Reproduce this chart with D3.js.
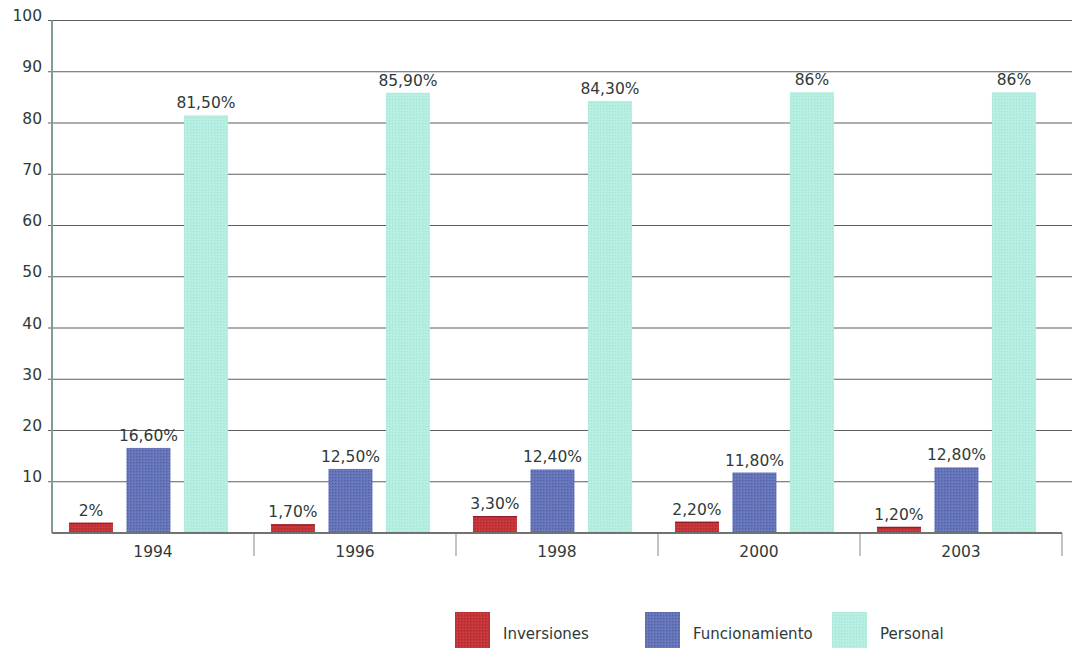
<!DOCTYPE html>
<html>
<head>
<meta charset="utf-8">
<script src="https://cdn.jsdelivr.net/npm/d3@7"></script>
<style>
  html, body { margin: 0; padding: 0; background: #ffffff; }
  svg { display: block; }
  text { font-family: "DejaVu Sans", sans-serif; fill: #2f3a38; }
</style>
</head>
<body>
<svg id="chart" width="1072" height="648"></svg>
<script>
// Distribución del gasto por año (porcentajes)
const years = ["1994", "1996", "1998", "2000", "2003"];
const seriesNames = ["Inversiones", "Funcionamiento", "Personal"];
const inversiones = [2, 1.7, 3.3, 2.2, 1.2];
const funcionamiento = [16.6, 12.5, 12.4, 11.8, 12.8];
const personal = [81.5, 85.9, 84.3, 86, 86];
const yTicks = [10, 20, 30, 40, 50, 60, 70, 80, 90, 100];
const colors = ["#c4353a", "#6574b8", "#b4eee0"];

const seriesValues = [inversiones, funcionamiento, personal];

const svg = d3.select("#chart");

const plot = { left: 52, right: 1062, top: 20.5, bottom: 533 };

const y = d3.scaleLinear().domain([0, 100]).range([plot.bottom, plot.top]);
const x0 = d3.scaleBand().domain(years).range([plot.left, plot.right]).padding(0);
const bw = x0.bandwidth();
const x1 = d3.scaleBand().domain(seriesNames)
  .range([bw * 0.084, bw * 0.871])
  .paddingInner(0.235).paddingOuter(0);

// subtle halftone texture for the bars
const defs = svg.append("defs");
colors.forEach((c, i) => {
  const p = defs.append("pattern")
    .attr("id", "tex" + i).attr("width", 3).attr("height", 3)
    .attr("patternUnits", "userSpaceOnUse");
  p.append("rect").attr("width", 3).attr("height", 3).attr("fill", c);
  p.append("rect").attr("x", 0).attr("y", 0).attr("width", 1).attr("height", 1)
    .attr("fill", i === 2 ? "#a6e4d6" : d3.color(c).darker(0.5));
  p.append("rect").attr("x", 2).attr("y", 2).attr("width", 1).attr("height", 1)
    .attr("fill", i === 2 ? "#c0f3e6" : d3.color(c).brighter(0.35));
});

// horizontal gridlines with tick labels
const yAxis = d3.axisLeft(y).tickValues(yTicks).tickSize(0).tickFormat(d3.format("d"));
const gy = svg.append("g").attr("transform", `translate(${plot.left},0)`);
gy.selectAll("line.grid")
  .data(yTicks)
  .join("line")
  .attr("class", "grid")
  .attr("x1", -4).attr("x2", 1072 - plot.left)
  .attr("y1", d => y(d)).attr("y2", d => y(d))
  .attr("stroke", "#5c5f5e").attr("stroke-width", 1.1);
const gyAxis = svg.append("g").attr("transform", `translate(${plot.left - 7},0)`).call(yAxis);
gyAxis.select(".domain").remove();
gyAxis.selectAll("text")
  .attr("font-size", "15.5px")
  .attr("font-family", "DejaVu Sans, sans-serif")
  .attr("fill", "#2f3a38")
  .attr("dy", "0")
  .attr("dx", "0");

// category separators under the baseline
const seps = years.map(d => x0(d) + bw);
svg.append("g").selectAll("line")
  .data(seps)
  .join("line")
  .attr("x1", d => d).attr("x2", d => d)
  .attr("y1", plot.bottom).attr("y2", plot.bottom + 23)
  .attr("stroke", "#9a9c9b").attr("stroke-width", 1.2);

// bars
const groups = svg.append("g").selectAll("g")
  .data(years)
  .join("g")
  .attr("transform", d => `translate(${x0(d)},0)`);

const fmt = v => Number.isInteger(v) ? v + "%" : v.toFixed(2).replace(".", ",") + "%";

groups.each(function (year, yi) {
  const g = d3.select(this);
  const recs = seriesNames.map((s, si) => ({ s, si, v: seriesValues[si][yi] }));
  g.selectAll("rect")
    .data(recs)
    .join("rect")
    .attr("x", d => x1(d.s))
    .attr("y", d => y(d.v))
    .attr("width", x1.bandwidth())
    .attr("height", d => y(0) - y(d.v))
    .attr("fill", d => `url(#tex${d.si})`);
  g.selectAll("rect.top")
    .data(recs.filter(d => d.si === 0))
    .join("rect")
    .attr("class", "top")
    .attr("x", d => x1(d.s))
    .attr("y", d => y(d.v))
    .attr("width", x1.bandwidth())
    .attr("height", 1.2)
    .attr("fill", "#8e1f26");
  g.selectAll("text")
    .data(recs)
    .join("text")
    .attr("x", d => x1(d.s) + x1.bandwidth() / 2)
    .attr("y", d => y(d.v) - 7)
    .attr("text-anchor", "middle")
    .attr("font-size", "15.5px")
    .text(d => fmt(d.v));
});

// axes lines
svg.append("line")
  .attr("x1", plot.left).attr("x2", plot.left)
  .attr("y1", plot.top).attr("y2", plot.bottom)
  .attr("stroke", "#7f9c96").attr("stroke-width", 2);
svg.append("line")
  .attr("x1", plot.left).attr("x2", plot.right)
  .attr("y1", plot.bottom).attr("y2", plot.bottom)
  .attr("stroke", "#6f7472").attr("stroke-width", 2);

// category labels
const xAxis = d3.axisBottom(x0).tickSize(0).tickPadding(0);
const gx = svg.append("g").attr("transform", `translate(0,${plot.bottom})`).call(xAxis);
gx.select(".domain").remove();
gx.selectAll("text")
  .attr("font-size", "15.5px")
  .attr("font-family", "DejaVu Sans, sans-serif")
  .attr("fill", "#2f3a38")
  .attr("dy", "0")
  .attr("y", 24);

// legend
const legendX = [455, 645, 832];
const lg = svg.append("g").selectAll("g")
  .data(seriesNames)
  .join("g")
  .attr("transform", (d, i) => `translate(${legendX[i]},612)`);
lg.append("rect")
  .attr("width", 35).attr("height", 36)
  .attr("fill", (d, i) => `url(#tex${i})`);
lg.append("text")
  .attr("x", 48).attr("y", 27)
  .attr("font-size", "15px")
  .attr("fill", "#3b4644")
  .text(d => d);
</script>
</body>
</html>
